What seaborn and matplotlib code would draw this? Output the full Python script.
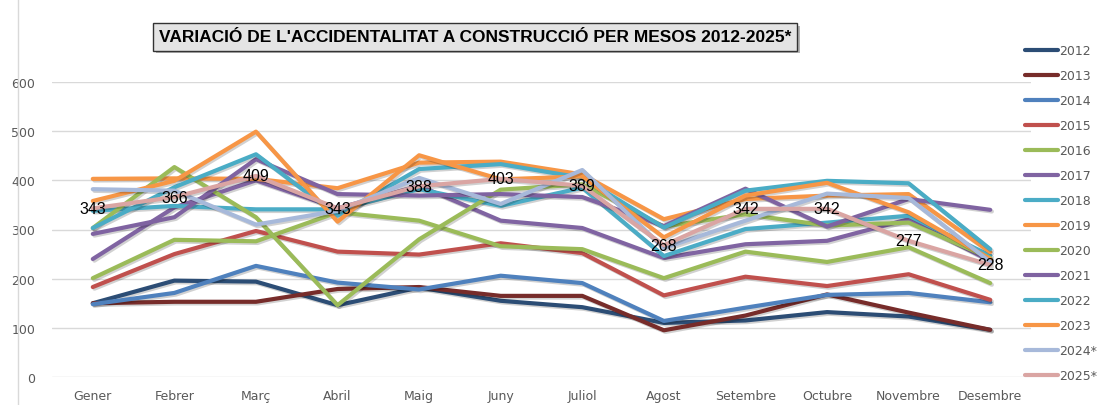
import numpy as np
import pandas as pd
import matplotlib
matplotlib.use("Agg")
import matplotlib.pyplot as plt
import matplotlib.patheffects as pe
from matplotlib.lines import Line2D
import seaborn as sns

months = ['Gener', 'Febrer', 'Març', 'Abril', 'Maig', 'Juny', 'Juliol',
          'Agost', 'Setembre', 'Octubre', 'Novembre', 'Desembre']
years = ['2012', '2013', '2014', '2015', '2016', '2017', '2018',
         '2019', '2020', '2021', '2022', '2023', '2024*', '2025*']

y2012 = [150, 196, 194, 146, 182, 155, 142, 110, 115, 132, 123, 96]
y2013 = [150, 153, 153, 179, 183, 165, 165, 95, 125, 168, 131, 96]
y2014 = [148, 171, 226, 192, 178, 206, 191, 114, 141, 167, 171, 152]
y2015 = [183, 250, 297, 255, 249, 272, 252, 166, 204, 185, 209, 157]
y2016 = [201, 279, 276, 335, 318, 266, 260, 201, 255, 234, 264, 191]
y2017 = [240, 345, 400, 343, 389, 318, 303, 242, 270, 277, 321, 236]
y2018 = [338, 348, 341, 341, 382, 348, 385, 246, 301, 314, 328, 247]
y2019 = [403, 404, 403, 384, 436, 438, 412, 321, 362, 369, 372, 254]
y2020 = [303, 427, 325, 146, 280, 381, 392, 306, 331, 308, 314, 242]
y2021 = [291, 325, 443, 372, 369, 372, 366, 307, 383, 306, 362, 340]
y2022 = [303, 386, 453, 328, 423, 433, 405, 304, 379, 399, 394, 260]
y2023 = [358, 399, 499, 316, 451, 402, 408, 284, 369, 395, 335, 240]
y2024 = [382, 379, 310, 338, 405, 352, 421, 262, 318, 373, 364, 234]
y2025 = [343, 366, 409, 343, 388, 403, 389, 268, 342, 342, 277, 228]

series = [y2012, y2013, y2014, y2015, y2016, y2017, y2018,
          y2019, y2020, y2021, y2022, y2023, y2024, y2025]
colors = ['#2C4D75', '#772C2A', '#4F81BD', '#C0504D', '#9BBB59', '#8064A2',
          '#4BACC6', '#F79646', '#9BBB59', '#7F63A1', '#4AACC5', '#F79646',
          '#A7B9DA', '#DAA5A3']

rows = []
for yr, vals in zip(years, series):
    for i, v in enumerate(vals):
        rows.append({'mes': i, 'any': yr, 'valor': v})
df = pd.DataFrame(rows)

sns.set_theme(style='white')
plt.rcParams['font.family'] = ['DejaVu Sans']

fig = plt.figure(figsize=(11.06, 4.06), dpi=100)
ax = fig.add_axes([52/1106, 1-378/406, (1031-52)/1106, (378-83)/406])

sns.lineplot(data=df, x='mes', y='valor', hue='any', hue_order=years,
             palette=colors, linewidth=3.0, legend=False, sort=False, ax=ax)

for ln in ax.lines:
    ln.set_solid_capstyle('round')
    ln.set_solid_joinstyle('round')
    ln.set_path_effects([pe.SimpleLineShadow(offset=(1.2, -1.2), alpha=0.18, shadow_color='black'),
                         pe.Normal()])

# data labels for 2025*
for i, v in enumerate(y2025):
    ax.text(i, v, str(v), ha='center', va='center', fontsize=11.5,
            color='black', family=['Liberation Sans', 'DejaVu Sans'], zorder=10)

ax.set_xlim(-0.5, 11.5)
ax.set_ylim(0, 600)
ax.set_xticks(range(12))
ax.set_xticklabels(months)
ax.set_yticks(range(0, 601, 100))
ax.tick_params(axis='both', length=0, labelsize=9, colors='#595959')
ax.tick_params(axis='x', pad=9)
ax.tick_params(axis='y', pad=12)
ax.set_xlabel('')
ax.set_ylabel('')
ax.grid(axis='y', color='#D9D9D9', linewidth=1)
ax.grid(axis='x', visible=False)
for s in ax.spines.values():
    s.set_visible(False)
ax.set_axisbelow(True)

handles = [Line2D([0], [0], color=c, lw=3, solid_capstyle='round') for c in colors]
leg = fig.legend(handles, years, loc='upper left',
                 bbox_to_anchor=(1020/1106, 1-40/406), frameon=False,
                 fontsize=9, labelspacing=0.96, handlelength=2.6,
                 handletextpad=0.15, borderaxespad=0)
for t in leg.get_texts():
    t.set_color('#595959')

t = fig.text(475/1106, 1-38/406, "VARIACIÓ DE L'ACCIDENTALITAT A CONSTRUCCIÓ PER MESOS 2012-2025*",
             ha='center', va='center', fontsize=12.5, fontweight='bold',
             family=['Liberation Sans', 'DejaVu Sans'], color='black',
             bbox=dict(boxstyle='square,pad=0.35', fc='#E4E4E4', ec='#333333', lw=1))
t.get_bbox_patch().set_path_effects([pe.withSimplePatchShadow(offset=(2, -2), alpha=0.4)])

fig.add_artist(Line2D([18/1106, 18/1106], [0, 1], transform=fig.transFigure,
                      color='#D9D9D9', lw=1))

fig.savefig('out.png', dpi=100)
